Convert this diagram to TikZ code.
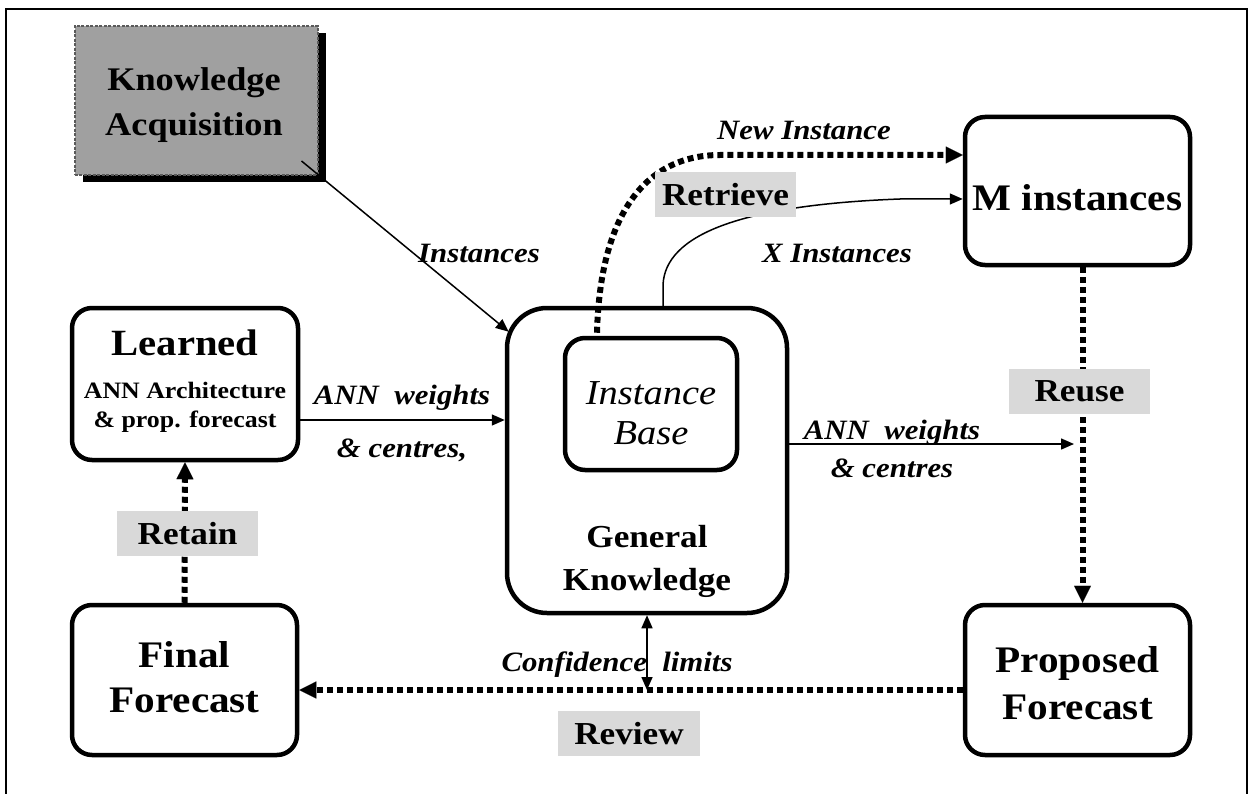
\documentclass[tikz,border=0pt]{standalone}
\usepackage{fontspec}
\setmainfont{Liberation Serif}[FakeStretch=1.1,
  BoldFont={Liberation Serif Bold}, ItalicFont={Liberation Serif Italic}, BoldItalicFont={Liberation Serif Bold Italic}]
\usetikzlibrary{arrows.meta,shadows}
\definecolor{kagray}{HTML}{A0A0A0}
\definecolor{kaborder}{HTML}{5A5A5A}
\definecolor{taggray}{HTML}{D9D9D9}
\begin{document}
\begin{tikzpicture}[x=1pt,y=-1pt,
  box/.style={draw=black, line width=4.5pt, rounded corners=20pt, inner sep=0pt},
  bigtext/.style={inner sep=0pt, align=center, font=\fontsize{37.5}{46}\selectfont\bfseries},
  tag/.style={fill=taggray, minimum width=141pt, minimum height=45pt, inner sep=0pt, font=\fontsize{32}{36}\selectfont\bfseries},
  elabel/.style={inner sep=0pt, font=\fontsize{28}{32}\selectfont\bfseries\itshape},
  thinarrow/.style={line width=1.5pt, -{Triangle[length=13pt,width=11pt]}},
  dotline/.style={line width=6pt, dash pattern=on 6pt off 4pt, -{Triangle[length=17pt,width=17pt,line width=0.1pt]}}
]
\useasboundingbox (0,0) rectangle (1249,794);
% frame
\draw[line width=1.5pt] (6,794) -- (6,9) -- (1247,9) -- (1247,794);

% Knowledge Acquisition
\node[draw=kaborder, line width=2pt, dash pattern=on 3pt off 1.5pt, fill=kagray,
      minimum width=243pt, minimum height=149pt, inner sep=0pt,
      drop shadow={shadow xshift=8pt, shadow yshift=-7pt, fill=black, opacity=1}] (ka) at (196,100.5) {};
\node[inner sep=0pt, align=center, font=\fontsize{33}{45}\selectfont\bfseries] (katext) at (194,105.5) {Knowledge\\Acquisition};

% Learned
\node[box, minimum width=226pt, minimum height=152pt] (learned) at (185,384) {};
\node[anchor=base, inner sep=0pt, font=\fontsize{37}{40}\selectfont\bfseries] (learnedA) at (185,355) {Learned};
\node[anchor=base, inner sep=0pt, font=\fontsize{23.5}{28}\selectfont\bfseries] (learnedB) at (185,398) {ANN Architecture};
\node[anchor=base, inner sep=0pt, font=\fontsize{23.5}{28}\selectfont\bfseries] (learnedC) at (185,427) {\& prop. forecast};

% General knowledge
\node[box, rounded corners=40pt, minimum width=280pt, minimum height=305pt] (gk) at (647,460.5) {};
\node[inner sep=0pt, align=center, font=\fontsize{32}{43}\selectfont\bfseries] (gktext) at (647,561.5) {General\\Knowledge};

% Instance base
\node[box, minimum width=172pt, minimum height=132pt] (ib) at (651,404) {};
\node[inner sep=0pt, align=center, font=\fontsize{35}{40}\selectfont\itshape] (ibtext) at (651,413) {Instance\\Base};

% M instances
\node[box, minimum width=225pt, minimum height=148pt] (mi) at (1077.5,191) {};
\node[bigtext] (mitext) at (1077.5,198) {M instances};

% Final forecast
\node[box, minimum width=225pt, minimum height=150pt] (ff) at (184.5,680) {};
\node[bigtext, font=\fontsize{37.5}{45}\selectfont\bfseries] (fftext) at (184.5,677.5) {Final\\Forecast};

% Proposed forecast
\node[box, minimum width=225pt, minimum height=150pt] (pf) at (1077.5,680) {};
\node[bigtext, font=\fontsize{37.5}{47}\selectfont\bfseries] (pftext) at (1077.5,683.5) {Proposed\\Forecast};

% helper coordinates
\coordinate (revR) at ([shift={(0,10)}]pf.west);
\coordinate (revL) at ([shift={(0,10)}]ff.east);
\coordinate (annR) at (1074,444);

% connectors
\draw[thinarrow] ([shift={(-17,-15)}]ka.south east) -- ([shift={(4,26)}]gk.north west);
\draw[thinarrow] ([shift={(0,36)}]learned.east) -- ([shift={(0,36)}]learned.east -| gk.west);
\draw[thinarrow] (gk.east |- annR) -- (annR);
\draw[line width=1.5pt, {Triangle[length=13pt,width=11pt]}-{Triangle[length=13pt,width=11pt]}] (gk.south) -- (gk.south |- revR);
\draw[thinarrow] ([shift={(16,0)}]gk.north) -- (663,285) .. controls (665,235) and (740,205) .. (900,199) -- ([shift={(0,8)}]mi.west);
\draw[dotline] ([shift={(-54,-3)}]ib.north) .. controls (600,215) and (645,155) .. (720,155) -- ([shift={(0,-36)}]mi.west);
\draw[dotline] ([shift={(5,0)}]mi.south) -- ([shift={(5,0)}]pf.north);
\draw[dotline] (revR) -- (revL);
\draw[dotline] (ff.north) -- (learned.south);

% tags
\node[tag] (retrieve) at (725.5,194.5) {Retrieve};
\node[tag] (reuse) at (1079.5,391) {Reuse};
\node[tag] (retain) at (187.5,533.5) {Retain};
\node[tag, minimum width=142pt] (review) at (629,733.5) {Review};

% edge labels
\node[elabel] (linst) at (479,253) {Instances};
\node[elabel] (lnew) at (804,130) {New Instance};
\node[elabel] (lx) at (837,253) {X Instances};
\node[elabel] (lannL) at (402,398) {ANN\ \ weights};
\node[elabel] (lcenL) at (402,450) {\& centres,};
\node[elabel] (lannR) at (892,433) {ANN\ \ weights};
\node[elabel] (lcenR) at (892,468) {\& centres};
\node[elabel] (lconf) at (617,665) {Confidence\ \ limits};
\end{tikzpicture}
\end{document}
